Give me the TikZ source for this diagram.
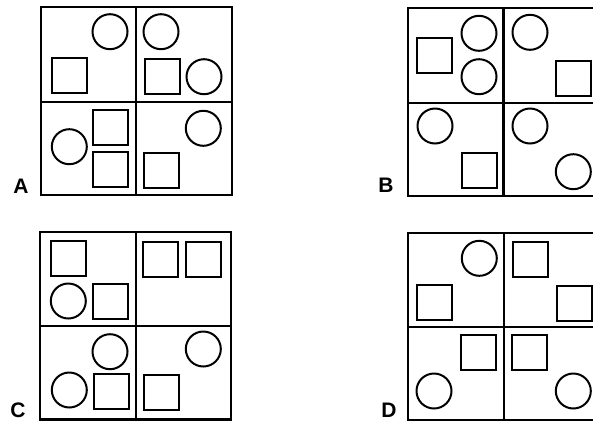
\documentclass[tikz,border=0pt]{standalone}
\usepackage{fontspec}
\setmainfont{Liberation Sans}
\usetikzlibrary{calc}

\begin{document}
\begin{tikzpicture}[x=1pt,y=-1pt,
    frame/.style={line width=2.2pt},
    fig/.style={line width=2pt},
    letter/.style={inner sep=0pt,font=\fontsize{21}{21}\selectfont\bfseries}]
  \useasboundingbox (0,0) rectangle (593,421);
  \clip (0,0) rectangle (593,421);

  % panel corners
  \coordinate (A1) at (41,7);    \coordinate (A2) at (232,195);
  \coordinate (B1) at (408,8);   \coordinate (B2) at (598,196);
  \coordinate (C1) at (40,232);  \coordinate (C2) at (231,419.5);
  \coordinate (D1) at (408,233); \coordinate (D2) at (599,420);

  \foreach \p/\mx/\my in {A/136/101.7, B/503.5/102.7, C/136/325.7, D/504/326.7} {
    \draw[frame] (\p1) rectangle (\p2);
    \draw[frame] (\mx,0 |- \p1) -- (\mx,0 |- \p2);
    \draw[frame] (\p1 |- 0,\my) -- (\p2 |- 0,\my);
  }

  % circles
  \foreach \c in {(110,31.7),(161,31.7),(204,76.7),(69.3,146.7),(203.3,128.3),
                  (479,33.3),(479,76.7),(530,32.3),(435,126),(530,126),(573.3,171.7),
                  (68.3,301),(110,351.7),(69.3,390),(203.3,349),
                  (479.3,258.3),(434,391),(573.3,391)}
    \draw[fig] \c circle[radius=17.5];

  % squares
  \foreach \s in {(69,75.8),(162,76.5),(110.5,127.8),(110.8,169.7),(161.7,170.3),
                  (434.8,55.8),(573.8,78),(479.5,170.8),
                  (68.3,258.5),(110.5,301.3),(160.3,259.2),(203,259.2),(111.3,391.3),(161.7,392.5),
                  (434.8,302.8),(530.2,259.8),(574.2,303.3),(478.7,352.2),(529.5,352.5)}
    \draw[fig] \s +(-17.5,-17.5) rectangle +(17.5,17.5);

  \node[letter] (labA) at (21,186) {A};
  \node[letter] (labB) at (386,185) {B};
  \node[letter] (labC) at (18,410) {C};
  \node[letter] (labD) at (389,410.5) {D};
\end{tikzpicture}
\end{document}
